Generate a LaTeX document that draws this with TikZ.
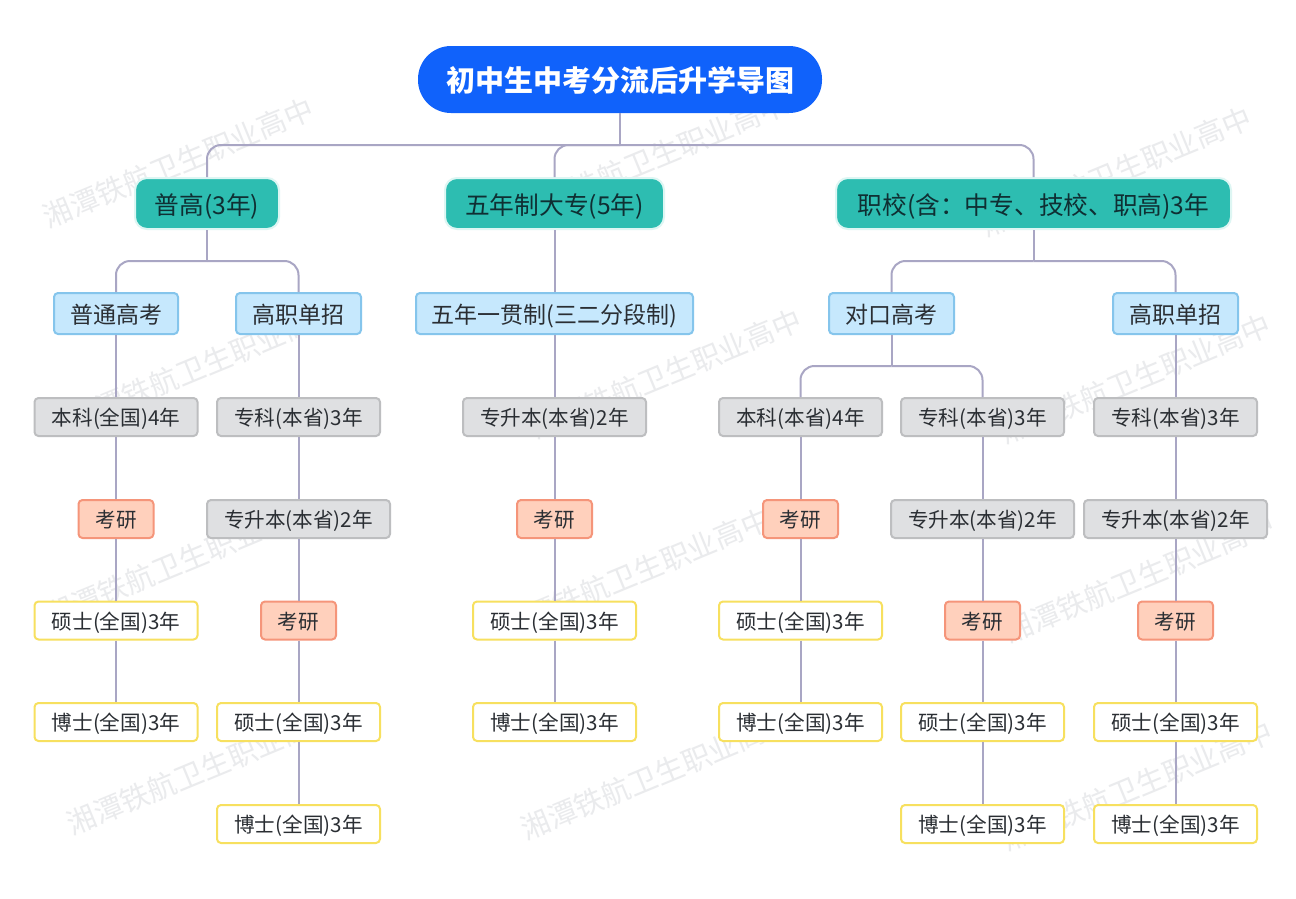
\documentclass[tikz,border=0pt]{standalone}
\usepackage{fontspec}
\setmainfont{Noto Sans CJK SC}
\definecolor{wm}{HTML}{EAEBED}
\definecolor{conn}{HTML}{A9A6C4}
\definecolor{rootblue}{HTML}{1062FB}
\definecolor{tealf}{HTML}{2DBDB1}
\definecolor{tealb}{HTML}{DDF6F3}
\definecolor{tealink}{HTML}{0F2F33}
\definecolor{bluef}{HTML}{C6E8FD}
\definecolor{blueb}{HTML}{85C5EC}
\definecolor{greyf}{HTML}{DFE0E2}
\definecolor{greyb}{HTML}{BDBEC0}
\definecolor{oranf}{HTML}{FFD0BC}
\definecolor{oranb}{HTML}{F5957A}
\definecolor{yelb}{HTML}{F7E05F}
\definecolor{ink}{HTML}{2A2E33}
\tikzset{
  x=1pt,y=-1pt,
  watermark/.style={text=wm,rotate=22.5,font=\fontsize{29}{31}\selectfont,inner sep=0pt},
  line/.style={draw=conn,line width=2pt},
  bus/.style={line,rounded corners=14pt},
  basebox/.style={inner sep=0pt,minimum height=38pt,text height=21pt,text depth=3.4pt,text=ink,line width=2pt,rounded corners=4pt,font=\fontsize{20.6}{23}\selectfont},
  rootbox/.style={inner sep=0pt,minimum width=404pt,minimum height=67pt,text height=28pt,text depth=4pt,fill=rootblue,rounded corners=33pt,text=white,font=\fontsize{29}{32}\selectfont\bfseries},
  tealbox/.style={inner sep=0pt,minimum height=51pt,text height=25pt,text depth=3.5pt,fill=tealf,draw=tealb,line width=2pt,rounded corners=12pt,text=tealink,font=\fontsize{24.7}{27}\selectfont},
  bluebox/.style={basebox,minimum height=41pt,text height=23pt,text depth=3.6pt,fill=bluef,draw=blueb,font=\fontsize{23}{26}\selectfont},
  greybox/.style={basebox,minimum width=163pt,fill=greyf,draw=greyb},
  oranbox/.style={basebox,minimum width=75pt,fill=oranf,draw=oranb},
  yelbox/.style={basebox,minimum width=163pt,fill=white,draw=yelb},
}
\begin{document}
\begin{tikzpicture}
\useasboundingbox (0,0) rectangle (1296,898);
\fill[white] (0,0) rectangle (1296,898);
% watermarks
\foreach \n/\px/\py in {w1/178/163,w2/652/158,w3/1116/172,w4/204/365,w5/666/374,w6/1135/379,w7/180/562,w8/635/573,w9/1139/578,w10/202/770,w11/656/775,w12/1137/786}
  \node[watermark] (\n) at (\px,\py) {湘潭铁航卫生职业高中};
% bus junctions
\coordinate (j0) at (620,145);
\coordinate (j1) at (207,261);
\coordinate (j3) at (1033.5,261);
\coordinate (j4) at (891.5,366);
% root and level 1
\node[rootbox] (root) at (620,79.5) {初中生中考分流后升学导图};
\node[tealbox,minimum width=144pt] (c1) at (207,203.5) {普高(3年)};
\node[tealbox,minimum width=219pt] (c2) at (554.5,203.5) {五年制大专(5年)};
\node[tealbox,minimum width=395pt] (c3) at (1033.5,203.5) {职校(含：中专、技校、职高)3年};
% level 2
\node[bluebox,minimum width=124pt] (a1) at (116,313.5) {普通高考};
\node[bluebox,minimum width=125pt] (a2) at (298.5,313.5) {高职单招};
\node[bluebox,minimum width=277pt] (a3) at (554.5,313.5) {五年一贯制(三二分段制)};
\node[bluebox,minimum width=125pt] (a4) at (891.5,313.5) {对口高考};
\node[bluebox,minimum width=125pt] (a5) at (1175.5,313.5) {高职单招};
% column 1
\node[greybox] (d1) at (116,417) {本科(全国)4年};
\node[oranbox] (d2) at (116,519) {考研};
\node[yelbox] (d3) at (116,620.5) {硕士(全国)3年};
\node[yelbox] (d4) at (116,722) {博士(全国)3年};
% column 2
\node[greybox] (e1) at (298.5,417) {专科(本省)3年};
\node[greybox,minimum width=183pt] (e2) at (298.5,519) {专升本(本省)2年};
\node[oranbox] (e3) at (298.5,620.5) {考研};
\node[yelbox] (e4) at (298.5,722) {硕士(全国)3年};
\node[yelbox] (e5) at (298.5,824) {博士(全国)3年};
% column 3
\node[greybox,minimum width=183pt] (f1) at (554.5,417) {专升本(本省)2年};
\node[oranbox] (f2) at (554.5,519) {考研};
\node[yelbox] (f3) at (554.5,620.5) {硕士(全国)3年};
\node[yelbox] (f4) at (554.5,722) {博士(全国)3年};
% column 4
\node[greybox] (g1) at (800.5,417) {本科(本省)4年};
\node[oranbox] (g2) at (800.5,519) {考研};
\node[yelbox] (g3) at (800.5,620.5) {硕士(全国)3年};
\node[yelbox] (g4) at (800.5,722) {博士(全国)3年};
% column 5
\node[greybox] (h1) at (982.5,417) {专科(本省)3年};
\node[greybox,minimum width=183pt] (h2) at (982.5,519) {专升本(本省)2年};
\node[oranbox] (h3) at (982.5,620.5) {考研};
\node[yelbox] (h4) at (982.5,722) {硕士(全国)3年};
\node[yelbox] (h5) at (982.5,824) {博士(全国)3年};
% column 6
\node[greybox] (k1) at (1175.5,417) {专科(本省)3年};
\node[greybox,minimum width=183pt] (k2) at (1175.5,519) {专升本(本省)2年};
\node[oranbox] (k3) at (1175.5,620.5) {考研};
\node[yelbox] (k4) at (1175.5,722) {硕士(全国)3年};
\node[yelbox] (k5) at (1175.5,824) {博士(全国)3年};
% connectors
\draw[line] (root) -- (j0);
\draw[bus] (j0) -| (c1.north);
\draw[bus] (j0) -| (c2.north);
\draw[bus] (j0) -| (c3.north);
\draw[line] (c1.south) -- (j1);
\draw[bus] (j1) -| (a1.north);
\draw[bus] (j1) -| (a2.north);
\draw[line] (c2.south) -- (a3.north);
\draw[line] (c3.south) -- (j3);
\draw[bus] (j3) -| (a4.north);
\draw[bus] (j3) -| (a5.north);
\draw[line] (a4.south) -- (j4);
\draw[bus] (j4) -| (g1.north);
\draw[bus] (j4) -| (h1.north);
\draw[line] (a1) -- (d1);
\draw[line] (d1) -- (d2);
\draw[line] (d2) -- (d3);
\draw[line] (d3) -- (d4);
\draw[line] (a2) -- (e1);
\draw[line] (e1) -- (e2);
\draw[line] (e2) -- (e3);
\draw[line] (e3) -- (e4);
\draw[line] (e4) -- (e5);
\draw[line] (a3) -- (f1);
\draw[line] (f1) -- (f2);
\draw[line] (f2) -- (f3);
\draw[line] (f3) -- (f4);
\draw[line] (g1) -- (g2);
\draw[line] (g2) -- (g3);
\draw[line] (g3) -- (g4);
\draw[line] (h1) -- (h2);
\draw[line] (h2) -- (h3);
\draw[line] (h3) -- (h4);
\draw[line] (h4) -- (h5);
\draw[line] (a5) -- (k1);
\draw[line] (k1) -- (k2);
\draw[line] (k2) -- (k3);
\draw[line] (k3) -- (k4);
\draw[line] (k4) -- (k5);
\end{tikzpicture}
\end{document}
